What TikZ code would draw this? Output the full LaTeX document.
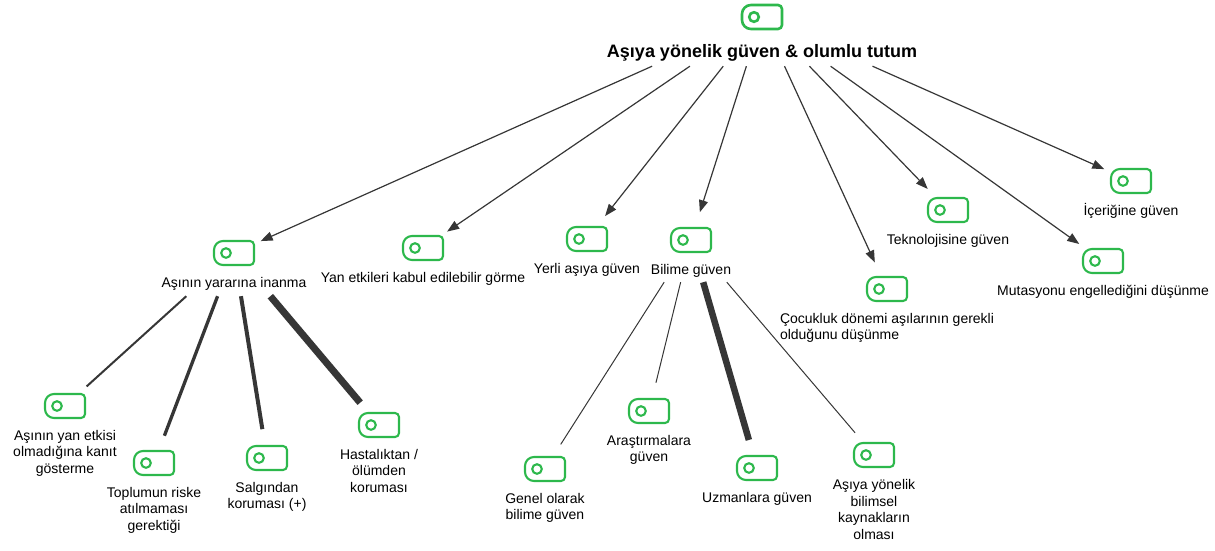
\documentclass[tikz,border=0pt]{standalone}
\usepackage{fontspec}
\setmainfont{Liberation Sans}
\usetikzlibrary{arrows.meta}
\definecolor{togglegreen}{HTML}{2DB84C}
\definecolor{linkgray}{HTML}{363636}
\newcommand{\togglepic}[2]{%
  \begin{scope}[shift={(path picture bounding box.center)},scale=#1]
    \draw[draw=togglegreen,line width=#2]
      (0pt,12pt) -- (-11pt,12pt) arc[start angle=90,end angle=180,radius=9pt]
      -- (-20pt,-3pt) arc[start angle=180,end angle=270,radius=9pt]
      -- (16pt,-12pt) arc[start angle=270,end angle=360,radius=4pt]
      -- (20pt,8pt) arc[start angle=0,end angle=90,radius=4pt] -- cycle;
    \draw[draw=togglegreen,line width=#2] (-8pt,0pt) circle[radius=4.8pt];
  \end{scope}}

\begin{document}
\begin{tikzpicture}[x=1pt,y=-1pt,
    tog/.style={circle,minimum size=58pt,inner sep=0pt,path picture={\togglepic{1}{2.1pt}}},
    bigtog/.style={circle,minimum size=66pt,inner sep=0pt,path picture={\togglepic{1.22}{2.6pt}}},
    hubbox/.style={rectangle,inner sep=0pt},
    lbl/.style={anchor=base,align=center,font=\fontsize{14}{16.5}\selectfont},
    arrow/.style={draw=linkgray,line width=1.2pt,-{Triangle[length=12pt,width=9pt]}},
    link/.style={draw=linkgray}
]
\useasboundingbox (0,0) rectangle (1215,550);

\node[bigtog] (top) at (762,17) {};
\node[hubbox,minimum width=310pt,minimum height=98pt] (topbox) at (762,17) {};
\node[anchor=base,font=\fontsize{18}{21}\selectfont\bfseries] (top-lbl) at (762,57) {Aşıya yönelik güven \& olumlu tutum};

\node[tog] (yarar)     at (234,253) {};
\node[tog] (yan)       at (423,248) {};
\node[tog] (yerli)     at (587,239) {};
\node[tog] (bilim)     at (691,240) {};
\node[tog] (cocuk)     at (887,289) {};
\node[tog] (tekno)     at (948,210) {};
\node[tog] (mutas)     at (1103,261) {};
\node[tog] (icerik)    at (1131,181) {};
\node[hubbox,minimum width=150pt,minimum height=86pt] (yararbox) at (234,253) {};
\node[hubbox,minimum width=100pt,minimum height=84pt] (bilimbox) at (691,240) {};

\node[tog] (kanit)     at (65,406) {};
\node[tog] (toplum)    at (154,463) {};
\node[tog] (salgin)    at (267,458) {};
\node[tog] (hastalik)  at (379,425) {};
\node[tog] (genel)     at (545,469) {};
\node[tog] (arastirma) at (649,411) {};
\node[tog] (uzman)     at (757,468) {};
\node[tog] (kaynak)    at (874,455) {};

% labels: base is the last line
\node[lbl] (yarar-lbl)  at (234,287) {Aşının yararına inanma};
\node[lbl] (yan-lbl)    at (423,282) {Yan etkileri kabul edilebilir görme};
\node[lbl] (yerli-lbl)  at (587,273) {Yerli aşıya güven};
\node[lbl] (bilim-lbl)  at (691,274) {Bilime güven};
\node[lbl,align=left] (cocuk-lbl) at (887,339.5) {Çocukluk dönemi aşılarının gerekli\\olduğunu düşünme};
\node[lbl] (tekno-lbl)  at (948,244) {Teknolojisine güven};
\node[lbl] (mutas-lbl)  at (1103,295) {Mutasyonu engellediğini düşünme};
\node[lbl] (icerik-lbl) at (1131,215) {İçeriğine güven};

\node[lbl] (kanit-lbl)     at (65,473) {Aşının yan etkisi\\olmadığına kanıt\\gösterme};
\node[lbl] (toplum-lbl)    at (154,530) {Toplumun riske\\atılmaması\\gerektiği};
\node[lbl] (salgin-lbl)    at (267,508.5) {Salgından\\koruması (+)};
\node[lbl] (hastalik-lbl)  at (379,492) {Hastalıktan /\\ölümden\\koruması};
\node[lbl] (genel-lbl)     at (545,519.5) {Genel olarak\\bilime güven};
\node[lbl] (arastirma-lbl) at (649,461.5) {Araştırmalara\\güven};
\node[lbl] (uzman-lbl)     at (757,502) {Uzmanlara güven};
\node[lbl] (kaynak-lbl)    at (874,539) {Aşıya yönelik\\bilimsel\\kaynakların\\olması};

% root to first level
\draw[arrow] (topbox) -- (yarar);
\draw[arrow] (topbox) -- (yan);
\draw[arrow] (topbox) -- (yerli);
\draw[arrow] (topbox) -- (bilim);
\draw[arrow] (topbox) -- (cocuk);
\draw[arrow] (topbox) -- (tekno);
\draw[arrow] (topbox) -- (mutas);
\draw[arrow] (topbox) -- (icerik);

% weighted links
\draw[link,line width=2pt]   (yararbox) -- (kanit);
\draw[link,line width=3.3pt] (yararbox) -- (toplum);
\draw[link,line width=4pt]   (yararbox) -- (salgin);
\draw[link,line width=7pt]   (yararbox) -- (hastalik);
\draw[link,line width=1pt]   (bilimbox) -- (genel);
\draw[link,line width=1pt]   (bilimbox) -- (arastirma);
\draw[link,line width=6.5pt] (bilimbox) -- (uzman);
\draw[link,line width=1pt]   (bilimbox) -- (kaynak);
\end{tikzpicture}
\end{document}
